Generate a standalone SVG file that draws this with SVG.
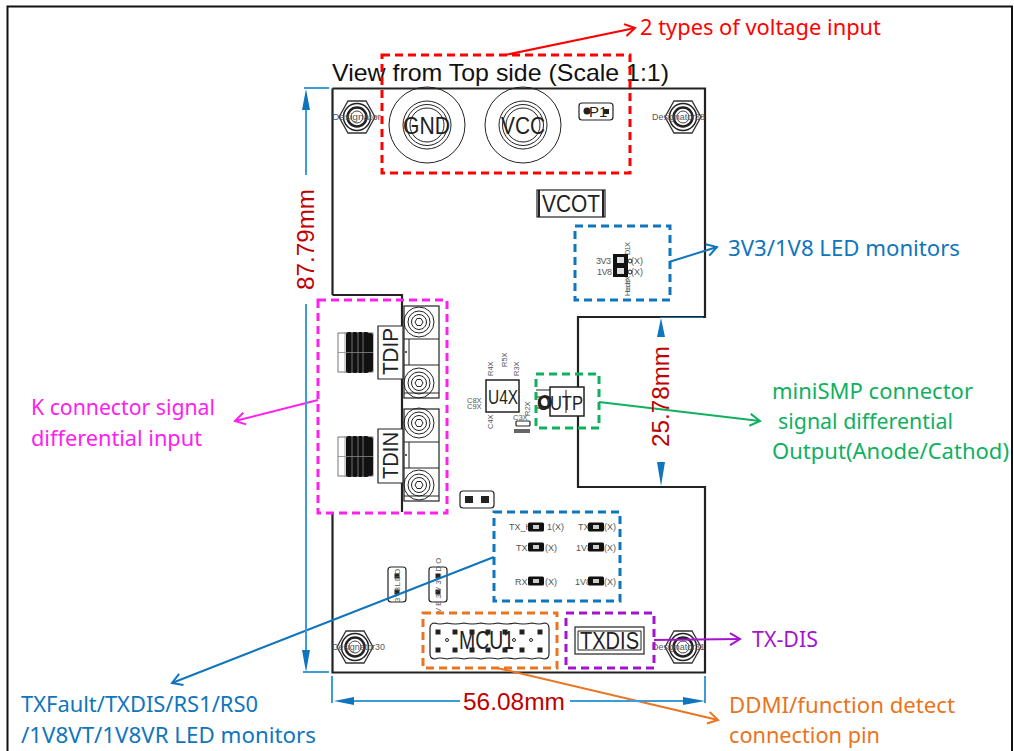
<svg xmlns="http://www.w3.org/2000/svg" xmlns:xlink="http://www.w3.org/1999/xlink" width="1014" height="751" viewBox="0 0 1014 751">
<style>
text{font-family:"Liberation Sans",Arial,sans-serif}
.note{font-family:"Noto Sans","Open Sans",sans-serif;font-size:21px}
.dim{font-size:24px;fill:#c00000}
.lbl{fill:#222;stroke:none}
.tiny{font-size:9px;fill:#555}
.tiny2{font-size:7.500px;fill:#555}
.ln{fill:none;stroke:#222;stroke-width:1}
.wh{fill:#fff;stroke:#222;stroke-width:1.2}
.box{fill:none;stroke-width:3;stroke-dasharray:8 5}
.arr{fill:none;stroke-width:2}
.dimln{fill:none;stroke:#3d9bd8;stroke-width:2}
.head{fill:#0f75bd;stroke:none}
</style>
<defs>
<g id="hole">
<polygon points="-18,0 -9,-16 9,-16 18,0 9,16 -9,16" fill="#fff" stroke="#333" stroke-width="1.3"/>
<circle r="13.500" fill="none" stroke="#222" stroke-width="1.500"/>
<circle r="9.500" fill="none" stroke="#222" stroke-width="2.500"/>
<circle r="6" fill="none" stroke="#444" stroke-width="1"/>
</g>
<g id="screw">
<circle r="15" class="ln"/><circle r="11" class="ln"/><circle r="7.500" class="ln" stroke-width="1.400"/><polygon points="-4,0 -2,-3.500 2,-3.500 4,0 2,3.500 -2,3.500" class="ln"/>
</g>
<g id="kconn">
<rect x="0" y="1" width="35" height="39" fill="#fff" stroke="#777" stroke-width="1"/>
<rect x="8" y="0" width="6.500" height="41" rx="2.500" fill="#111"/><rect x="13.500" y="0" width="6.500" height="41" rx="2.500" fill="#111"/><rect x="19" y="0" width="6.500" height="41" rx="2.500" fill="#111"/><rect x="24.500" y="0" width="6.500" height="41" rx="2.500" fill="#111"/><rect x="29.500" y="1" width="5.500" height="39" rx="2.500" fill="#111"/>
<path d="M0 20.500H35M7 0V41M14 0V41M20 0V41M25 0V41" stroke="#888" stroke-width="0.800"/>
</g>
<g id="mount">
<rect x="0" y="0" width="35" height="92" class="wh"/>
<path d="M0 33H35M0 59H35M0 87H35M5 33V59" class="ln"/>
<circle cx="2" cy="46" r="1" fill="#222"/>
</g>
<g id="led"><rect x="-8" y="-4.500" width="16" height="9" rx="1.500" fill="#111"/><rect x="-3" y="-2" width="6" height="4" fill="#ccc"/></g>
<g id="pin"><rect x="-2.500" y="-2.500" width="5" height="5" fill="#222"/></g>
<marker id="mRed" markerWidth="14" markerHeight="14" refX="12" refY="7" orient="auto" markerUnits="userSpaceOnUse"><path d="M2 1L12 7L2 13" fill="none" stroke="#ff0000" stroke-width="2"/></marker>
<marker id="mBlue" markerWidth="14" markerHeight="14" refX="12" refY="7" orient="auto" markerUnits="userSpaceOnUse"><path d="M2 1L12 7L2 13" fill="none" stroke="#0f75bd" stroke-width="2"/></marker>
<marker id="mMag" markerWidth="14" markerHeight="14" refX="12" refY="7" orient="auto" markerUnits="userSpaceOnUse"><path d="M2 1L12 7L2 13" fill="none" stroke="#ff20ee" stroke-width="2"/></marker>
<marker id="mGreen" markerWidth="14" markerHeight="14" refX="12" refY="7" orient="auto" markerUnits="userSpaceOnUse"><path d="M2 1L12 7L2 13" fill="none" stroke="#10b060" stroke-width="2"/></marker>
<marker id="mPur" markerWidth="14" markerHeight="14" refX="12" refY="7" orient="auto" markerUnits="userSpaceOnUse"><path d="M2 1L12 7L2 13" fill="none" stroke="#a414d0" stroke-width="2"/></marker>
<marker id="mOr" markerWidth="14" markerHeight="14" refX="12" refY="7" orient="auto" markerUnits="userSpaceOnUse"><path d="M2 1L12 7L2 13" fill="none" stroke="#ea7420" stroke-width="2"/></marker>
</defs>
<rect width="1014" height="751" fill="#fff"/>
<path d="M7.500 751V6.500H1012V751" fill="none" stroke="#111" stroke-width="2"/>

<g id="board">
<path d="M332.500 88.500H705V317H578V387M578 416V487H705V672.500H332.500V513M332.500 295V88.500M332.500 295H402V512" fill="none" stroke="#222" stroke-width="2.200"/>
<path d="M660 317.500H703" stroke="#1f6fa8" stroke-width="1.200"/>
<text x="332" y="81" font-size="24" fill="#111" textLength="337" lengthAdjust="spacingAndGlyphs">View from Top side (Scale 1:1)</text>
</g>

<g id="holes">
<use xlink:href="#hole" href="#hole" x="357" y="117"/><use xlink:href="#hole" href="#hole" x="683" y="117"/><use xlink:href="#hole" href="#hole" x="355" y="647"/><use xlink:href="#hole" href="#hole" x="683" y="647"/>
<text x="332" y="120" class="tiny" textLength="49" lengthAdjust="spacingAndGlyphs">Designator</text>
<text x="652" y="120" class="tiny" textLength="53" lengthAdjust="spacingAndGlyphs">Designator38</text>
<text x="332" y="650" class="tiny" textLength="53" lengthAdjust="spacingAndGlyphs">Designator30</text>
<text x="652" y="650" class="tiny" textLength="53" lengthAdjust="spacingAndGlyphs">Designator31</text>
</g>

<g id="power">
<circle cx="427" cy="125" r="38" class="ln"/><circle cx="427" cy="125" r="24" class="ln"/><circle cx="427" cy="125" r="20.500" class="ln"/><circle cx="427" cy="125" r="17" class="ln"/>
<circle cx="523" cy="125" r="38" class="ln"/><circle cx="523" cy="125" r="24" class="ln"/><circle cx="523" cy="125" r="20.500" class="ln"/><circle cx="523" cy="125" r="17" class="ln"/>
<text x="403" y="134" font-size="24" class="lbl" textLength="47" lengthAdjust="spacingAndGlyphs">GND</text>
<text x="501" y="134" font-size="24" class="lbl" textLength="44" lengthAdjust="spacingAndGlyphs">VCC</text>
</g>
<g id="P1">
<rect x="579" y="103" width="34" height="17" rx="3" class="wh"/>
<circle cx="587" cy="111" r="3.500" fill="#222"/><rect x="604" y="109" width="5" height="5" fill="#222"/>
<text x="589" y="117" font-size="15" class="lbl">P1</text>
</g>
<g id="VCOT">
<rect x="537" y="190" width="68" height="27" class="wh" stroke-width="1.600"/><path d="M539 190V217M603 190V217" stroke="#222" stroke-width="2"/>
<text x="542" y="212" font-size="24" class="lbl" textLength="58" lengthAdjust="spacingAndGlyphs">VCOT</text>
</g>
<g id="led-monitors-top">
<text transform="translate(630,255) rotate(-90)" class="tiny2" textLength="13">D1X</text>
<text transform="translate(630,296) rotate(-90)" class="tiny2" textLength="20">HeaderX</text>
<text x="596" y="264" class="tiny" textLength="15">3V3</text><text x="631" y="264" class="tiny">(X)</text>
<text x="597" y="275" class="tiny" textLength="15">1V8</text><text x="631" y="275" class="tiny">(X)</text>
<rect x="613" y="254" width="15" height="23" fill="#111"/><rect x="617" y="257" width="7" height="6" fill="#ddd"/><rect x="617" y="268" width="7" height="6" fill="#ddd"/>
<circle cx="630" cy="261" r="2" class="ln"/><circle cx="630" cy="272" r="2" class="ln"/>
</g>

<g id="TDIP">
<use xlink:href="#kconn" href="#kconn" x="338" y="332"/>
<use xlink:href="#mount" href="#mount" x="404" y="306"/>
<path d="M378 379V326H403V379Z" class="wh"/>
<use xlink:href="#screw" href="#screw" x="419" y="322"/><use xlink:href="#screw" href="#screw" x="419" y="383"/>
<text transform="translate(398,375) rotate(-90)" font-size="22" class="lbl" textLength="47" lengthAdjust="spacingAndGlyphs">TDIP</text>
</g>
<g id="TDIN">
<use xlink:href="#kconn" href="#kconn" x="338" y="436"/>
<use xlink:href="#mount" href="#mount" x="404" y="409"/>
<path d="M378 483V429H403V483Z" class="wh"/>
<use xlink:href="#screw" href="#screw" x="419" y="423"/><use xlink:href="#screw" href="#screw" x="419" y="485"/>
<text transform="translate(398,479) rotate(-90)" font-size="22" class="lbl" textLength="47" lengthAdjust="spacingAndGlyphs">TDIN</text>
</g>

<g id="U4X">
<rect x="486" y="380" width="33" height="32" fill="#fff" stroke="#222" stroke-width="1.500"/>
<text x="488" y="404" font-size="20" class="lbl" textLength="30" lengthAdjust="spacingAndGlyphs">U4X</text>
<text transform="translate(493,376) rotate(-90)" class="tiny2">R4X</text>
<text transform="translate(519,376) rotate(-90)" class="tiny2">R3X</text>
<text transform="translate(507,367) rotate(-90)" class="tiny2">R5X</text>
<text x="467" y="403" class="tiny2">C8X</text><text x="467" y="409" class="tiny2">C9X</text>
<text transform="translate(493,429) rotate(-90)" class="tiny2">C4X</text>
<text transform="translate(530,416) rotate(-90)" class="tiny2">R2X</text>
<text x="513" y="420" class="tiny2">C3X</text>
<rect x="516" y="421" width="14" height="5" rx="1" class="wh"/><rect x="514" y="429" width="16" height="4" fill="#666"/>
</g>
<g id="OUTP">
<path d="M536 390H550M536 397H550M536 408H550" class="ln"/>
<rect x="550" y="387" width="34" height="29" fill="#fff" stroke="#222" stroke-width="1.500"/>
<path d="M566 390V413" stroke="#222"/>
<circle cx="545" cy="402" r="5.500" fill="#fff" stroke="#222" stroke-width="3"/>
<text x="537" y="410" font-size="20" class="lbl" textLength="46" lengthAdjust="spacingAndGlyphs">OUTP</text>
</g>

<g id="J-center">
<path d="M463 491H491Q494 491 494 494V505Q494 508 491 508H463Q460 508 460 505V494Q460 491 463 491Z" class="wh"/>
<rect x="465" y="496" width="8" height="7" fill="#222"/><rect x="481" y="496" width="8" height="7" fill="#222"/>
</g>
<g id="led-monitors-bottom">
<text x="509" y="530" class="tiny">TX_H</text><text x="547" y="530" class="tiny">1(X)</text>
<text x="578" y="530" class="tiny">TX</text><text x="604" y="530" class="tiny">(X)</text>
<text x="516" y="551" class="tiny">TX</text><text x="545" y="551" class="tiny">(X)</text>
<text x="576" y="551" class="tiny">1V8</text><text x="604" y="551" class="tiny">(X)</text>
<text x="515" y="585" class="tiny">RX</text><text x="545" y="585" class="tiny">(X)</text>
<text x="575" y="585" class="tiny">1V8</text><text x="604" y="585" class="tiny">(X)</text>
<use xlink:href="#led" href="#led" x="536" y="527"/><use xlink:href="#led" href="#led" x="596" y="527"/>
<use xlink:href="#led" href="#led" x="536" y="547"/><use xlink:href="#led" href="#led" x="596" y="547"/>
<use xlink:href="#led" href="#led" x="536" y="581"/><use xlink:href="#led" href="#led" x="596" y="581"/>
</g>
<g id="J-3V8LDO">
<rect x="388" y="567" width="18" height="35" rx="3" class="wh"/><use xlink:href="#pin" href="#pin" x="397" y="576"/><use xlink:href="#pin" href="#pin" x="397" y="592"/>
<text transform="translate(400,602) rotate(-90)" class="tiny2" textLength="33">3V8LDO</text>
</g>
<g id="J-3V3LDO">
<rect x="429" y="567" width="18" height="35" rx="3" class="wh"/><use xlink:href="#pin" href="#pin" x="438" y="576"/><use xlink:href="#pin" href="#pin" x="438" y="592"/>
<text transform="translate(441,613) rotate(-90)" class="tiny2" textLength="55">VE3V3LDO</text>
</g>
<g id="MCU1">
<path d="M430 628Q430 623 435 623Q439 625 447 623Q455 625 464 623Q472 625 481 623Q489 625 498 623Q506 625 515 623Q523 625 532 623Q540 625 544 623Q549 623 549 628V654Q549 659 544 659Q540 657 532 659Q523 657 515 659Q506 657 498 659Q489 657 481 659Q472 657 464 659Q455 657 447 659Q439 657 435 659Q430 659 430 654Z" class="wh"/>
<use xlink:href="#pin" href="#pin" x="438" y="632"/><use xlink:href="#pin" href="#pin" x="455" y="632"/><use xlink:href="#pin" href="#pin" x="472" y="632"/><use xlink:href="#pin" href="#pin" x="488" y="632"/><use xlink:href="#pin" href="#pin" x="505" y="632"/><use xlink:href="#pin" href="#pin" x="522" y="632"/><use xlink:href="#pin" href="#pin" x="540" y="632"/>
<use xlink:href="#pin" href="#pin" x="438" y="650"/><use xlink:href="#pin" href="#pin" x="455" y="650"/><use xlink:href="#pin" href="#pin" x="472" y="650"/><use xlink:href="#pin" href="#pin" x="488" y="650"/><use xlink:href="#pin" href="#pin" x="505" y="650"/><use xlink:href="#pin" href="#pin" x="522" y="650"/><use xlink:href="#pin" href="#pin" x="540" y="650"/>
<circle cx="447" cy="640" r="1.500" class="ln"/><circle cx="514" cy="640" r="1.500" class="ln"/><circle cx="531" cy="640" r="1.500" class="ln"/>
<text x="459" y="649" font-size="25" class="lbl" textLength="55" lengthAdjust="spacingAndGlyphs">MCU1</text>
</g>
<g id="TXDIS">
<rect x="575" y="627" width="69" height="27" class="wh" stroke-width="1.600"/><path d="M578 631H641V650H578Z" class="ln"/>
<text x="580" y="649" font-size="24" class="lbl" textLength="59" lengthAdjust="spacingAndGlyphs">TXDIS</text>
</g>

<g id="highlight-boxes">
<rect x="382" y="55" width="248" height="118" class="box" stroke="#ff0000"/>
<rect x="575" y="226" width="95" height="74" class="box" stroke="#0f75bd"/>
<rect x="318" y="300" width="129" height="213" class="box" stroke="#ff20ee"/>
<rect x="536" y="374" width="63" height="54" class="box" stroke="#10b060"/>
<rect x="494" y="512" width="126" height="89" class="box" stroke="#0f75bd"/>
<rect x="423" y="613" width="134" height="55" class="box" stroke="#ea7420"/>
<rect x="566" y="613" width="88" height="55" class="box" stroke="#a414d0"/>
</g>

<g id="connectors">
<path d="M505 55L635 28" class="arr" stroke="#ff0000" marker-end="url(#mRed)"/>
<path d="M669 262L717 247" class="arr" stroke="#0f75bd" marker-end="url(#mBlue)"/>
<path d="M318 400L235 421" class="arr" stroke="#ff20ee" marker-end="url(#mMag)"/>
<path d="M599 402L760 421" class="arr" stroke="#10b060" marker-end="url(#mGreen)"/>
<path d="M494 557L172 683" class="arr" stroke="#0f75bd" marker-end="url(#mBlue)"/>
<path d="M654 640L740 639" class="arr" stroke="#a414d0" marker-end="url(#mPur)"/>
<path d="M497 668L718 720" class="arr" stroke="#ea7420" marker-end="url(#mOr)"/>
</g>

<g id="dimensions">
<path d="M304 88H329M306 108V175M306 304V650M303 672H329M332 676V703M705 676V703M352 701H460M570 701H683" class="dimln"/>
<path d="M306 89L302 110H310Z M306 672L302 650H310Z M334 701L354 697V705Z M705 701L683 697V705Z M661 318L657 337H665Z M661 486L657 462H665Z" class="head"/>
<text transform="translate(314,290) rotate(-90)" class="dim" textLength="101" lengthAdjust="spacingAndGlyphs">87.79mm</text>
<text transform="translate(669,447) rotate(-90)" class="dim" textLength="101" lengthAdjust="spacingAndGlyphs">25.78mm</text>
<text x="463" y="710" class="dim" textLength="102" lengthAdjust="spacingAndGlyphs">56.08mm</text>
</g>

<g id="annotations">
<text x="640" y="35" class="note" fill="#ff0000" textLength="241" lengthAdjust="spacingAndGlyphs">2 types of voltage input</text>
<text x="728" y="256" class="note" fill="#0f75bd" textLength="232" lengthAdjust="spacingAndGlyphs">3V3/1V8 LED monitors</text>
<text x="31" y="415" class="note" fill="#ff20ee" textLength="184" lengthAdjust="spacingAndGlyphs">K connector signal</text>
<text x="31" y="446" class="note" fill="#ff20ee" textLength="171" lengthAdjust="spacingAndGlyphs">differential input</text>
<text x="772" y="399" class="note" fill="#10b060" textLength="201" lengthAdjust="spacingAndGlyphs">miniSMP connector</text>
<text x="778" y="429" class="note" fill="#10b060" textLength="175" lengthAdjust="spacingAndGlyphs">signal differential</text>
<text x="772" y="459" class="note" fill="#10b060" textLength="237" lengthAdjust="spacingAndGlyphs">Output(Anode/Cathod)</text>
<text x="21" y="712" class="note" fill="#0f75bd" textLength="237" lengthAdjust="spacingAndGlyphs">TXFault/TXDIS/RS1/RS0</text>
<text x="21" y="743" class="note" fill="#0f75bd" textLength="295" lengthAdjust="spacingAndGlyphs">/1V8VT/1V8VR LED monitors</text>
<text x="752" y="647" class="note" fill="#a414d0" textLength="66" lengthAdjust="spacingAndGlyphs">TX-DIS</text>
<text x="729" y="713" class="note" fill="#ea7420" textLength="226" lengthAdjust="spacingAndGlyphs">DDMI/function detect</text>
<text x="729" y="743" class="note" fill="#ea7420" textLength="151" lengthAdjust="spacingAndGlyphs">connection pin</text>
</g>
</svg>
